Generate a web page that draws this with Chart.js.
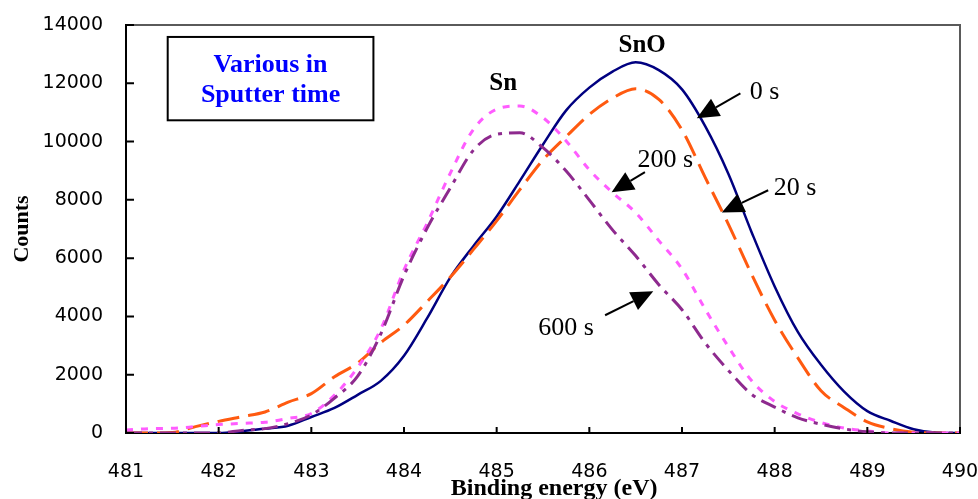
<!DOCTYPE html>
<html>
<head>
<meta charset="utf-8">
<script src="https://cdn.jsdelivr.net/npm/chart.js@4"></script>
<style>
  body { margin: 0; background: #fff; }
</style>
</head>
<body>
<canvas id="xpsChart" width="978" height="499"></canvas>
<script>
// binding energy grid (eV) and counts
const energy = [481, 481.25, 481.5, 481.75, 482, 482.25, 482.5, 482.75, 483, 483.25, 483.5, 483.75,
    484, 484.25, 484.5, 484.75, 485, 485.25, 485.5, 485.75, 486, 486.25, 486.5, 486.75,
    487, 487.25, 487.5, 487.75, 488, 488.25, 488.5, 488.75, 489, 489.25, 489.5, 489.75, 490];

const counts0s = [0, 0, 0, 0, 0, 60, 150, 250, 550, 860, 1310, 1790,
    2650, 3940, 5340, 6420, 7430, 8650, 9900, 11070, 11850, 12400, 12720, 12450,
    11790, 10530, 8900, 6900, 5030, 3470, 2340, 1420, 750, 420, 130, 10, 0];
const counts20s = [0, 0, 20, 220, 400, 560, 720, 1060, 1350, 1930, 2400, 3100,
    3700, 4510, 5350, 6300, 7280, 8350, 9370, 10170, 10930, 11490, 11810, 11450,
    10400, 8770, 7170, 5450, 3870, 2580, 1450, 870, 380, 150, 30, 0, 0];
const counts200s = [100, 150, 160, 220, 290, 330, 370, 500, 670, 1300, 2250, 3570,
    5600, 7200, 8920, 10420, 11110, 11220, 10820, 10020, 9030, 8250, 7560, 6600,
    5630, 4250, 2960, 1800, 1080, 660, 360, 170, 70, 0, 0, 0, 0];
const counts600s = [0, 0, 0, 0, 0, 90, 150, 320, 620, 1200, 1950, 3400,
    5400, 7030, 8410, 9710, 10250, 10300, 9790, 8990, 7990, 6970, 6080, 5090,
    4230, 3090, 2150, 1330, 890, 520, 300, 140, 40, 0, 0, 0, 0];

const xTicks = [481, 482, 483, 484, 485, 486, 487, 488, 489, 490];
const yTicks = [0, 2000, 4000, 6000, 8000, 10000, 12000, 14000];
const xTitle = 'Binding energy (eV)';

// labels on the plot: text, arrow tail and tip, all in data units
const arrowNotes = [
    { text: '0 s',   tx: 487.73, ty: 11450, x0: 487.63, y0: 11650, x1: 487.16, y1: 10800 },
    { text: '20 s',  tx: 487.99, ty: 8160,  x0: 487.93, y0: 8330,  x1: 487.43, y1: 7570 },
    { text: '200 s', tx: 486.52, ty: 9120,  x0: 486.60, y0: 8950,  x1: 486.24, y1: 8260 },
    { text: '600 s', tx: 485.45, ty: 3350,  x0: 486.17, y0: 4040,  x1: 486.69, y1: 4860 }
];
const peakNotes = [
    { text: 'SnO', x: 486.57, y: 13060 },
    { text: 'Sn',  x: 485.07, y: 11760 }
];
const boxLines = ['Various in', 'Sputter time'];

function pts(ys) {
    return energy.map((e, i) => ({ x: e, y: ys[i] }));
}

const serif = '"Liberation Serif", "Times New Roman", serif';

const notesPlugin = {
    id: 'notes',
    afterDatasetsDraw(chart) {
        const { ctx, chartArea: a, scales: { x, y } } = chart;
        ctx.save();

        // frame on top and right
        ctx.strokeStyle = '#5a5a5a';
        ctx.lineWidth = 2;
        ctx.beginPath();
        ctx.moveTo(a.left, a.top);
        ctx.lineTo(a.right, a.top);
        ctx.lineTo(a.right, a.bottom);
        ctx.stroke();

        // inward tick marks
        ctx.strokeStyle = '#000';
        ctx.lineWidth = 2;
        ctx.beginPath();
        xTicks.forEach(v => {
            const px = x.getPixelForValue(v);
            ctx.moveTo(px, a.bottom);
            ctx.lineTo(px, a.bottom - 6);
        });
        yTicks.forEach(v => {
            const py = y.getPixelForValue(v);
            ctx.moveTo(a.left, py);
            ctx.lineTo(a.left + 8, py);
        });
        ctx.stroke();

        // x axis title, a bit right of centre as in the original
        ctx.fillStyle = '#000';
        ctx.font = 'bold 24px ' + serif;
        ctx.textAlign = 'center';
        ctx.textBaseline = 'alphabetic';
        ctx.fillText(xTitle, x.getPixelForValue(485.62), a.bottom + 62);

        // text box
        const bx0 = x.getPixelForValue(481.45), bx1 = x.getPixelForValue(483.67);
        const by0 = y.getPixelForValue(13590), by1 = y.getPixelForValue(10730);
        ctx.fillStyle = '#fff';
        ctx.fillRect(bx0, by0, bx1 - bx0, by1 - by0);
        ctx.strokeStyle = '#000';
        ctx.lineWidth = 2;
        ctx.strokeRect(bx0, by0, bx1 - bx0, by1 - by0);
        ctx.fillStyle = '#0000ff';
        ctx.font = 'bold 26px ' + serif;
        ctx.fillText(boxLines[0], (bx0 + bx1) / 2, by0 + 35);
        ctx.fillText(boxLines[1], (bx0 + bx1) / 2, by0 + 65);

        // peak names
        ctx.fillStyle = '#000';
        ctx.font = 'bold 25px ' + serif;
        peakNotes.forEach(n => {
            ctx.fillText(n.text, x.getPixelForValue(n.x), y.getPixelForValue(n.y));
        });

        // arrows with sputter times
        ctx.font = '26px ' + serif;
        ctx.textAlign = 'left';
        arrowNotes.forEach(n => {
            const ax = x.getPixelForValue(n.x0), ay = y.getPixelForValue(n.y0);
            const bx = x.getPixelForValue(n.x1), by = y.getPixelForValue(n.y1);
            const ang = Math.atan2(by - ay, bx - ax);
            const head = 22, half = 10;
            const hx = bx - head * Math.cos(ang), hy = by - head * Math.sin(ang);
            ctx.lineWidth = 2;
            ctx.beginPath();
            ctx.moveTo(ax, ay);
            ctx.lineTo(hx, hy);
            ctx.stroke();
            ctx.beginPath();
            ctx.moveTo(bx, by);
            ctx.lineTo(hx + half * Math.sin(ang), hy - half * Math.cos(ang));
            ctx.lineTo(hx - half * Math.sin(ang), hy + half * Math.cos(ang));
            ctx.closePath();
            ctx.fill();
            ctx.fillText(n.text, x.getPixelForValue(n.tx), y.getPixelForValue(n.ty));
        });

        ctx.restore();
    }
};

const line = (label, ys, color, dash, width) => ({
    label: label,
    data: pts(ys),
    borderColor: color,
    borderWidth: width,
    borderDash: dash,
    pointRadius: 0,
    fill: false,
    cubicInterpolationMode: 'monotone'
});

const tickFont = { family: '"DejaVu Sans", sans-serif', size: 19 };

new Chart(document.getElementById('xpsChart'), {
    type: 'line',
    data: {
        datasets: [
            line('600 s', counts600s, '#8e2a8e', [16, 7, 4, 7], 3),
            line('200 s', counts200s, '#ff5cff', [7, 8], 3),
            line('20 s', counts20s, '#ff5a10', [22, 9], 3),
            line('0 s', counts0s, '#000080', [], 2.5)
        ]
    },
    options: {
        responsive: false,
        animation: false,
        layout: { padding: { top: 25, right: 18, left: 0, bottom: 0 } },
        plugins: { legend: { display: false }, tooltip: { enabled: false } },
        scales: {
            x: {
                type: 'linear',
                min: 481,
                max: 490,
                afterBuildTicks: s => { s.ticks = xTicks.map(v => ({ value: v })); },
                afterFit: s => { s.height = 66; s.paddingLeft = 0; s.paddingRight = 0; },
                ticks: { color: '#000', font: tickFont, padding: 28, maxRotation: 0,
                    callback: v => String(v) },
                grid: { drawOnChartArea: false, drawTicks: false },
                border: { color: '#000', width: 2 }
            },
            y: {
                min: 0,
                max: 14000,
                afterBuildTicks: s => { s.ticks = yTicks.map(v => ({ value: v })); },
                afterFit: s => { s.width = 126; s.paddingTop = 0; s.paddingBottom = 0; },
                ticks: { color: '#000', font: tickFont, padding: 23, callback: v => String(v) },
                grid: { drawOnChartArea: false, drawTicks: false },
                border: { color: '#000', width: 2 },
                title: {
                    display: true,
                    text: 'Counts',
                    color: '#000',
                    font: { family: serif, size: 22, weight: 'bold' },
                    padding: { top: 9, bottom: 0 }
                }
            }
        }
    },
    plugins: [notesPlugin]
});
</script>
</body>
</html>
